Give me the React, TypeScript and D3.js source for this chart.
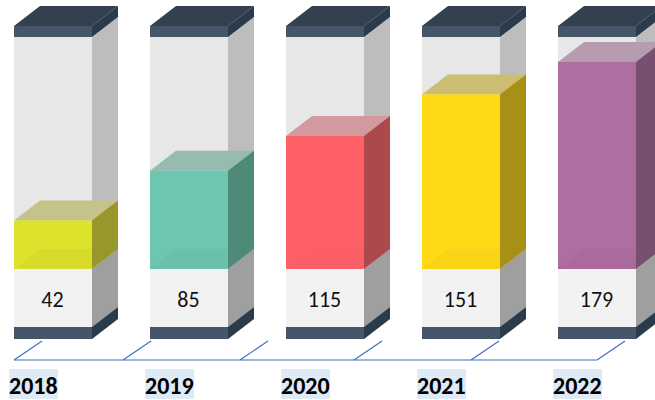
import React from "react";
import * as d3 from "d3";

const years = ["2018", "2019", "2020", "2021", "2022"];
const values = [42, 85, 115, 151, 179];
const frontColors = ["#dde22c", "#6cc6b0", "#ff6167", "#ffd812", "#ae6e9f"];
const sideColors = ["#98982a", "#4d8a78", "#ab4a4e", "#a89012", "#784f6e"];
const topColors = ["#c4c48a", "#96bcb0", "#d29a9e", "#ccbd70", "#b79cb0"];
const floorColors = ["#d7dc2c", "#69c1ab", "#fa5f65", "#fad312", "#aa6a9b"];

const W = 655, H = 400;
const DX = 26, DY = 20, BW = 78;
const x = d3.scalePoint<string>().domain(years).range([14, 558]);
const y = d3.scaleLinear().domain([0, 179]).range([269, 62]);

const poly = (pts: [number, number][]) => pts.map((p) => p.join(",")).join(" ");
const axisTicks = [14, 123, 240, 354, 471, 597];

function box(x0: number, top: number, bot: number, front: string, side: string, lid: string, key: string) {
  return (
    <g key={key}>
      <polygon points={poly([[x0, top], [x0 + DX, top - DY], [x0 + BW + DX, top - DY], [x0 + BW, top]])} fill={lid} />
      <polygon points={poly([[x0 + BW, top], [x0 + BW + DX, top - DY], [x0 + BW + DX, bot - DY], [x0 + BW, bot]])} fill={side} />
      <rect x={x0} y={top} width={BW} height={bot - top} fill={front} />
    </g>
  );
}

export default function App() {
  return (
    <svg width={W} height={H} style={{ position: "absolute", left: 0, top: 0 }} fontFamily="Carlito, Lato, 'Open Sans', sans-serif">
      <defs>
        <filter id="soft" x="-5%" y="-5%" width="110%" height="110%"><feGaussianBlur stdDeviation="0.45" /></filter>
      </defs>
      <g filter="url(#soft)">
        {years.map((yr, i) => {
          const x0 = x(yr)!;
          const yv = y(values[i]);
          const base = y(0);
          return (
            <g key={yr}>
              {box(x0, 37, 327, "#e7e7e7", "#bdbdbd", "#e7e7e7", "glass")}
              {box(x0, base, 327, "#f2f2f2", "#9f9f9f", "#f2f2f2", "base")}
              <polygon points={poly([[x0 + BW, 327], [x0 + BW + DX, 327 - DY], [x0 + BW + DX, 339 - DY], [x0 + BW, 339]])} fill="#2b3a4c" />
              <rect x={x0} y={327} width={BW} height={12} fill="#44546a" />
              {box(x0, yv, base, frontColors[i], sideColors[i], topColors[i], "bar")}
              <polygon points={poly([[x0, base], [x0 + DX, base - DY], [x0 + BW, base - DY], [x0 + BW, base]])} fill={floorColors[i]} />
              <polygon points={poly([[x0, 26], [x0 + DX, 6], [x0 + BW + DX, 6], [x0 + BW, 26]])} fill="#333f50" />
              <polygon points={poly([[x0 + BW, 26], [x0 + BW + DX, 6], [x0 + BW + DX, 17], [x0 + BW, 37]])} fill="#2b3a4c" />
              <rect x={x0} y={26} width={BW} height={11} fill="#44546a" />
            </g>
          );
        })}
      </g>
      {years.map((yr, i) => (
        <text key={yr} x={x(yr)! + BW / 2 - 0.5} y={307} textAnchor="middle" fontSize={22} fill="#111">{values[i]}</text>
      ))}
      <line x1={14} x2={597} y1={360} y2={360} stroke="#3f6fc6" strokeWidth={1.2} />
      {axisTicks.map((t) => (
        <line key={t} x1={t} y1={360} x2={t + 28} y2={341} stroke="#3f6fc6" strokeWidth={1.2} />
      ))}
      {years.map((yr) => {
        const x0 = x(yr)!;
        return (
          <g key={yr}>
            <rect x={x0 - 5} y={369} width={49} height={30} fill="#deeaf6" />
            <text x={x0 - 5} y={394} fontSize={24} fontWeight={700} fill="#000">{yr}</text>
          </g>
        );
      })}
    </svg>
  );
}
